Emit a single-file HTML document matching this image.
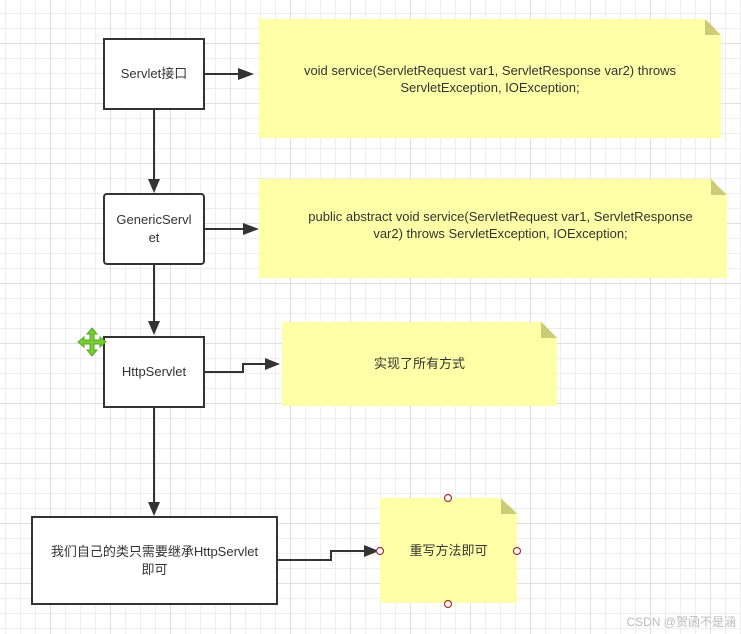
<!DOCTYPE html>
<html><head><meta charset="utf-8"><style>
html,body{margin:0;padding:0}
body{width:741px;height:634px;overflow:hidden;position:relative;font-family:"Liberation Sans","Noto Sans CJK SC",sans-serif;font-size:13px;color:#333;
background-color:#fff;
background-image:
linear-gradient(to right,#e0e0e0 1px,transparent 1px),
linear-gradient(to bottom,#e0e0e0 1px,transparent 1px),
linear-gradient(to right,#eeeeee 1px,transparent 1px),
linear-gradient(to bottom,#eeeeee 1px,transparent 1px);
background-size:60px 60px,60px 60px,15px 15px,15px 15px;
background-position:50px 0,0 43px,5px 0,0 13px;}
.box{position:absolute;box-sizing:border-box;border:2px solid #333;background:#fff;display:flex;align-items:center;justify-content:center;text-align:center;line-height:18px}
.note{position:absolute;background:#ffffa8;display:flex;align-items:center;justify-content:center;text-align:center;line-height:17px;clip-path:polygon(0 0,calc(100% - 16px) 0,100% 16px,100% 100%,0 100%)}
.fold2{position:absolute;width:16px;height:16px;background:linear-gradient(to top right,#cccc77 50%,transparent 50%)}
svg{position:absolute;left:0;top:0}
</style></head><body>
<div class="note" style="left:259px;top:19px;width:462px;height:119px;padding:0 30px;box-sizing:border-box">void service(ServletRequest var1, ServletResponse var2) throws<br>ServletException, IOException;</div>
<div class="fold2" style="left:705px;top:19px"></div>
<div class="note" style="left:259px;top:179px;width:468px;height:99px;padding:0 20px 8px 35px;box-sizing:border-box">public abstract void service(ServletRequest var1, ServletResponse<br>var2) throws ServletException, IOException;</div>
<div class="fold2" style="left:711px;top:179px"></div>
<div class="note" style="left:282px;top:322px;width:275px;height:84px;padding-bottom:2px;box-sizing:border-box">实现了所有方式</div>
<div class="fold2" style="left:541px;top:322px"></div>
<div class="note" style="left:380px;top:498px;width:137px;height:105px">重写方法即可</div>
<div class="fold2" style="left:501px;top:498px"></div>

<div class="box" style="left:103px;top:38px;width:102px;height:72px">Servlet接口</div>
<div class="box" style="left:103px;top:193px;width:102px;height:72px;border-radius:4px;padding:0 3px">GenericServl<br>et</div>
<div class="box" style="left:103px;top:336px;width:102px;height:72px">HttpServlet</div>
<div class="box" style="left:31px;top:516px;width:247px;height:89px;padding:0 10px">我们自己的类只需要继承HttpServlet<br>即可</div>

<svg width="741" height="634" viewBox="0 0 741 634">
<g stroke="#333" stroke-width="2" fill="none">
<line x1="154" y1="109" x2="154" y2="180"/>
<line x1="154" y1="265" x2="154" y2="322"/>
<line x1="154" y1="408" x2="154" y2="503"/>
<line x1="205" y1="74" x2="240" y2="74"/>
<line x1="205" y1="229" x2="245" y2="229"/>
<polyline points="205,372 243,372 243,364 267,364"/>
<polyline points="278,560 331,560 331,551 366,551"/>
</g>
<g fill="#333">
<polygon points="148,179 160,179 154,193"/>
<polygon points="148,321 160,321 154,335"/>
<polygon points="148,502 160,502 154,516"/>
<polygon points="238,68 238,80 254,74"/>
<polygon points="243,223 243,235 259,229"/>
<polygon points="265,358 265,370 280,364"/>
<polygon points="364,545 364,557 379,551"/>
</g>
<g fill="#fff" stroke="#a33" stroke-width="1.2">
<circle cx="448" cy="498" r="3.5"/><circle cx="448" cy="604" r="3.5"/>
<circle cx="380" cy="551" r="3.5"/><circle cx="517" cy="551" r="3.5"/>
</g>
<g fill="#7c3" stroke="#5a2" stroke-width="1">
<path d="M92,328 L97,334 L94,334 L94,340 L100,340 L100,337 L106,342 L100,347 L100,344 L94,344 L94,350 L97,350 L92,356 L87,350 L90,350 L90,344 L84,344 L84,347 L78,342 L84,337 L84,340 L90,340 L90,334 L87,334 Z"/>
</g>
<text x="736" y="626" text-anchor="end" font-size="12" fill="#bbb" font-family="Liberation Sans,Noto Sans CJK SC,sans-serif">CSDN @贺函不是涵</text>
</svg>
</body></html>
